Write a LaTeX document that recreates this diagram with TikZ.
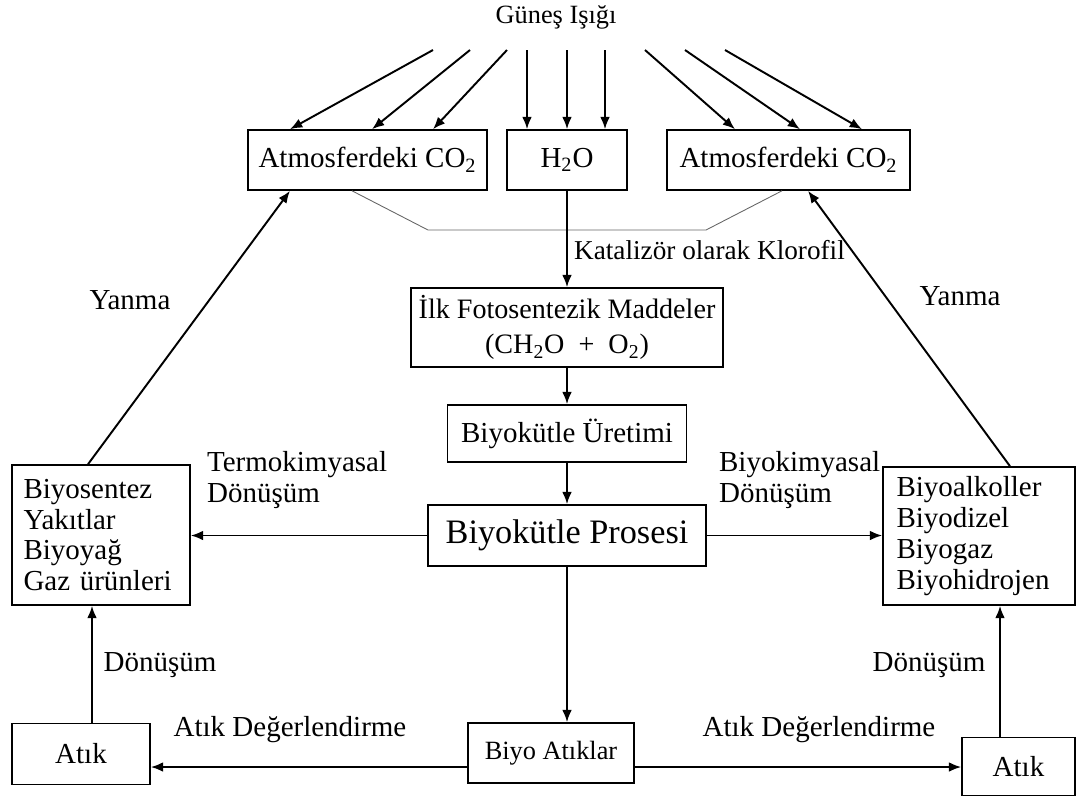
\documentclass[tikz,border=0pt]{standalone}
\usepackage{fontspec}
\setmainfont{Liberation Serif}
\usetikzlibrary{arrows.meta}
\hyphenpenalty=10000
\tikzset{>={Latex[length=7pt,width=5.5pt]}}
\tikzstyle{box} = [draw, line width=0.9pt, inner sep=0pt, align=center, font=\fontsize{16.5}{17.5}\selectfont]
\tikzstyle{lbl} = [draw=none, inner sep=1, font=\fontsize{16.5}{17.5}\selectfont]
\tikzstyle{ray} = [->, line width=1.1pt]
\tikzstyle{link} = [-, line width=0.5pt, black!60]

\begin{document}
\begin{tikzpicture}[x=0.02cm, y=-0.02cm]
\useasboundingbox (0,0) rectangle (1081,796);
\node [lbl, font=\fontsize{15}{16}\selectfont] (sun) at (556,17) {Güneş Işığı};
\node [box, minimum width=4.78cm, minimum height=1.2cm] (co2L) at (367.5,160) {Atmosferdeki CO\textsubscript{2}};
\node [box, minimum width=2.4cm, minimum height=1.2cm] (h2o) at (567,160) {H\textsubscript{2}O};
\node [box, minimum width=4.86cm, minimum height=1.2cm] (co2R) at (788.5,160) {Atmosferdeki CO\textsubscript{2}};
\node [box, minimum width=6.24cm, minimum height=1.58cm, font=\fontsize{16}{20}\selectfont] (ilk) at (567,327.5) {İlk Fotosentezik Maddeler\\(CH\textsubscript{2}O\ \ +\ \ O\textsubscript{2})};
\node [box, minimum width=4.78cm, minimum height=1.14cm] (uretim) at (567,433.5) {Biyokütle Üretimi};
\node [box, minimum width=5.56cm, minimum height=1.22cm, font=\fontsize{19.5}{22}\selectfont] (proses) at (567,535.5) {Biyokütle Prosesi};
\node [box, align=left, text width=3.1cm, inner xsep=0.23cm, minimum height=2.8cm] (yakit) at (101,535) {Biyosentez\\Yakıtlar\\Biyoyağ\\Gaz ürünleri};
\node [box, align=left, text width=3.3cm, inner xsep=0.27cm, minimum height=2.76cm] (alkol) at (979,536) {Biyoalkoller\\Biyodizel\\Biyogaz\\Biyohidrojen};
\node [box, minimum width=3.32cm, minimum height=1.2cm, font=\fontsize{15}{16}\selectfont] (biyoatik) at (551,753) {Biyo Atıklar};
\node [box, minimum width=2.76cm, minimum height=1.22cm] (atikL) at (81,754) {Atık};
\node [box, minimum width=2.26cm, minimum height=1.16cm] (atikR) at (1018.5,766.5) {Atık};

\node [lbl, anchor=west, font=\fontsize{15.5}{16}\selectfont] (kat) at (572,250) {Katalizör olarak Klorofil};
\node [lbl] (yanL) at (130,300) {Yanma};
\node [lbl] (yanR) at (960,296) {Yanma};
\node [lbl, align=left, anchor=west] (termo) at (205,480) {Termokimyasal\\Dönüşüm};
\node [lbl, align=left, anchor=west] (biyok) at (717,480) {Biyokimyasal\\Dönüşüm};
\node [lbl] (donL) at (160,665) {Dönüşüm};
\node [lbl] (donR) at (929,665) {Dönüşüm};
\node [lbl] (degL) at (290,730) {Atık Değerlendirme};
\node [lbl] (degR) at (819,730) {Atık Değerlendirme};

\coordinate (r1) at (433,50);
\coordinate (r2) at (470,50);
\coordinate (r3) at (507,50);
\coordinate (r4) at (527,50);
\coordinate (r5) at (567,50);
\coordinate (r6) at (605,50);
\coordinate (r7) at (645,50);
\coordinate (r8) at (685,50);
\coordinate (r9) at (725,50);
\draw [ray] (r1) to (290,0 |- co2L.north);
\draw [ray] (r2) to (372,0 |- co2L.north);
\draw [ray] (r3) to (433,0 |- co2L.north);
\draw [ray] (r4) to (r4 |- h2o.north);
\draw [ray] (r5) to (r5 |- h2o.north);
\draw [ray] (r6) to (r6 |- h2o.north);
\draw [ray] (r7) to (735,0 |- co2R.north);
\draw [ray] (r8) to (800,0 |- co2R.north);
\draw [ray] (r9) to (862,0 |- co2R.north);

\coordinate (j1) at (428,230);
\coordinate (j2) at (706,230);
\draw [link] (352,0 |- co2L.south) -- (j1) -- (j2) -- (782,0 |- co2R.south);

\draw [ray] (h2o) to (ilk);
\draw [ray] (ilk) to (uretim);
\draw [ray] (uretim) to (proses);
\draw [ray] (proses.west) to (proses.west -| yakit.east);
\draw [ray] (proses.east) to (proses.east -| alkol.west);
\draw [ray] (proses) to (proses |- biyoatik.north);
\draw [ray] (88,0 |- yakit.north) to (290,0 |- co2L.south);
\draw [ray] (1010,0 |- alkol.north) to (808,0 |- co2R.south);
\draw [ray] (92,0 |- atikL.north) to (92,0 |- yakit.south);
\draw [ray] (1000,0 |- atikR.north) to (1000,0 |- alkol.south);
\draw [ray] (biyoatik.west |- 0,767) to (atikL.east |- 0,767);
\draw [ray] (biyoatik.east |- 0,767) to (atikR.west |- 0,767);
\end{tikzpicture}
\end{document}
